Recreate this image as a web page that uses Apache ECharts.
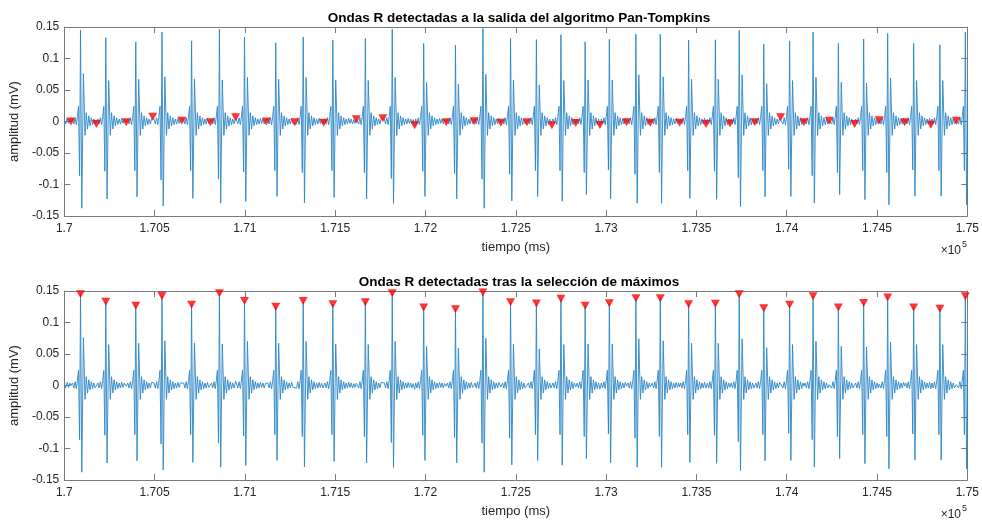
<!DOCTYPE html>
<html>
<head>
<meta charset="utf-8">
<title>Ondas R detectadas</title>
<script src="https://cdn.jsdelivr.net/npm/echarts@6/dist/echarts.min.js"></script>
<style>
  html, body { margin: 0; padding: 0; background: #fff; }
  #main { width: 982px; height: 522px; }
</style>
</head>
<body>
<div id="main"></div>
<script type="text/javascript">
// tiempos de las ondas R (ms) y amplitudes
var rTimes = [170090, 170230, 170396, 170541, 170705, 170859, 170998, 171171, 171323, 171487,
              171667, 171816, 171990, 172166, 172318, 172471, 172614, 172750, 172884, 173018,
              173165, 173300, 173457, 173605, 173737, 173873, 174016, 174146, 174286, 174426,
              174559, 174703, 174848, 174989];
var rPeaks = [0.145, 0.133, 0.1265, 0.142, 0.128, 0.1465, 0.134, 0.125, 0.134, 0.129,
              0.132, 0.1465, 0.124, 0.121, 0.1476, 0.132, 0.130, 0.1376, 0.1265, 0.1306,
              0.1386, 0.1386, 0.129, 0.1297, 0.145, 0.1227, 0.128, 0.1418, 0.1238, 0.131,
              0.1397, 0.1238, 0.1217, 0.1418];
var sTroughs = [-0.1376, -0.123, -0.1196, -0.134, -0.122, -0.1296, -0.127, -0.119, -0.129, -0.1206,
                -0.123, -0.130, -0.119, -0.1226, -0.1376, -0.126, -0.119, -0.1265, -0.116, -0.123,
                -0.1296, -0.130, -0.122, -0.1235, -0.135, -0.1196, -0.119, -0.1296, -0.116, -0.124,
                -0.132, -0.1185, -0.1185, -0.132];
var preDips = [-0.086, -0.079, -0.078, -0.093, -0.078, -0.0915, -0.080, -0.078, -0.081, -0.078,
               -0.081, -0.0905, -0.079, -0.0825, -0.0915, -0.0836, -0.078, -0.078, -0.081, -0.077,
               -0.0836, -0.081, -0.078, -0.079, -0.089, -0.078, -0.0757, -0.086, -0.081, -0.078,
               -0.081, -0.077, -0.078, -0.078];
var secondPeaks = [0.076, 0.065, 0.067, 0.071, 0.067, 0.066, 0.070, 0.067, 0.070, 0.066,
                   0.065, 0.070, 0.062, 0.059, 0.075, 0.066, 0.058, 0.065, 0.066, 0.066,
                   0.074, 0.071, 0.067, 0.067, 0.074, 0.060, 0.065, 0.070, 0.062, 0.061,
                   0.069, 0.065, 0.065, 0.070];

// salida Pan-Tompkins (marcadores de la primera grafica)
var ptTimes = [170037, 170178, 170343, 170490, 170651, 170809, 170949, 171119, 171276, 171437,
               171617, 171764, 171940, 172115, 172269, 172417, 172562, 172700, 172832, 172966,
               173113, 173245, 173407, 173553, 173686, 173823, 173966, 174095, 174235, 174376,
               174512, 174653, 174798, 174939];
var ptValues = [0.000, -0.004, -0.001, 0.0076, 0.0013, -0.001, 0.0067, 0.000, -0.001, -0.002,
                0.0035, 0.005, -0.006, -0.001, 0.0003, -0.002, -0.0013, -0.006, -0.0024, -0.0056,
                -0.001, -0.002, -0.002, -0.004, -0.003, -0.001, 0.0067, -0.001, 0.0013, -0.004,
                0.002, -0.001, -0.005, 0.0013];

// forma del complejo alrededor de cada onda R (ms relativos, mV)
var preOffsets = [-44, -37, -30, -23, -17, -11];
var preValues = [0.004, -0.004, 0.006, -0.005, 0.008, 0.024];
var tailOffsets = [25, 32, 39, 46, 53, 60, 67, 74, 81, 88, 95, 102, 109, 116, 123, 130];
var tailValues = [-0.022, 0.014, -0.012, 0.009, -0.007, 0.006, -0.005, 0.004, -0.004, 0.005,
                  -0.003, 0.004, -0.004, 0.003, -0.003, 0.003];
var leadTimes = [170000, 170008, 170016, 170024, 170031];
var leadValues = [0.003, -0.004, 0.005, -0.003, 0.004];

var xTickLabels = ['1.7', '1.705', '1.71', '1.715', '1.72', '1.725', '1.73', '1.735', '1.74', '1.745', '1.75'];
var yTickLabels = ['-0.15', '-0.1', '-0.05', '0', '0.05', '0.1', '0.15'];

// construir la senal
var signal = [];
for (var k = 0; k < leadTimes.length; k++) signal.push([leadTimes[k], leadValues[k]]);
for (var i = 0; i < rTimes.length; i++) {
    var r = rTimes[i];
    var next = i + 1 < rTimes.length ? ptTimes[i + 1] : 175060;
    signal.push([ptTimes[i], ptValues[i]]);
    for (var j = 0; j < preOffsets.length; j++) {
        if (r + preOffsets[j] > ptTimes[i] + 3) signal.push([r + preOffsets[j], preValues[j]]);
    }
    signal.push([r - 5, preDips[i]]);
    signal.push([r, rPeaks[i]]);
    signal.push([r + 7, sTroughs[i]]);
    signal.push([r + 16, secondPeaks[i]]);
    for (var j = 0; j < tailOffsets.length; j++) {
        if (r + tailOffsets[j] < next - 4) signal.push([r + tailOffsets[j], tailValues[j]]);
    }
}
var ptMarks = [], rMarks = [];
for (var i = 0; i < rTimes.length; i++) {
    ptMarks.push([ptTimes[i], ptValues[i]]);
    rMarks.push([rTimes[i], rPeaks[i]]);
}

var font = "'Liberation Sans', Arial, sans-serif";
var boxColor = '#7a7a7a';
var textColor = '#262626';

function xAx(gi, mirror) {
    return {
        type: 'value', gridIndex: gi, min: 170000, max: 175000, interval: 500,
        position: mirror ? 'top' : 'bottom',
        name: mirror ? '' : 'tiempo (ms)', nameLocation: 'middle', nameGap: 25,
        nameTextStyle: { fontFamily: font, fontSize: 13, color: textColor },
        axisLine: { show: true, onZero: false, lineStyle: { color: boxColor, width: 1 } },
        axisTick: { show: true, inside: true, length: 6, lineStyle: { color: boxColor } },
        axisLabel: {
            show: !mirror, margin: 7, fontFamily: font, fontSize: 12, color: textColor,
            showMinLabel: true, showMaxLabel: true,
            formatter: function (v) { return xTickLabels[Math.round((v - 170000) / 500)] || ''; }
        },
        splitLine: { show: false }
    };
}
function yAx(gi, mirror) {
    return {
        type: 'value', gridIndex: gi, min: -0.15, max: 0.15, interval: 0.05,
        position: mirror ? 'right' : 'left',
        name: mirror ? '' : 'amplitud (mV)', nameLocation: 'middle', nameGap: 34, nameRotate: 90,
        nameTextStyle: { fontFamily: font, fontSize: 13, color: textColor },
        axisLine: { show: true, onZero: false, lineStyle: { color: boxColor, width: 1 } },
        axisTick: { show: true, inside: true, length: 6, lineStyle: { color: boxColor } },
        axisLabel: {
            show: !mirror, margin: 5, fontFamily: font, fontSize: 12, color: textColor,
            showMinLabel: true, showMaxLabel: true,
            formatter: function (v) { return yTickLabels[Math.round((v + 0.15) / 0.05)] || ''; }
        },
        splitLine: { show: false }
    };
}

var chart = echarts.init(document.getElementById('main'));
chart.setOption({
    animation: false,
    backgroundColor: '#fff',
    title: [
        { text: 'Ondas R detectadas a la salida del algoritmo Pan-Tompkins', left: 514, top: 6, textAlign: 'center',
          textStyle: { fontFamily: font, fontSize: 13.5, fontWeight: 'bold', color: '#000' } },
        { text: 'Ondas R detectadas tras la selección de máximos', left: 514, top: 270, textAlign: 'center',
          textStyle: { fontFamily: font, fontSize: 13.5, fontWeight: 'bold', color: '#000' } }
    ],
    grid: [
        { left: 60, top: 27, width: 908, height: 189 },
        { left: 60, top: 291, width: 908, height: 189 }
    ],
    xAxis: [xAx(0, false), xAx(0, true), xAx(1, false), xAx(1, true)],
    yAxis: [yAx(0, false), yAx(0, true), yAx(1, false), yAx(1, true)],
    graphic: [
        { type: 'text', right: 21, top: 245, style: { text: '×10', fontFamily: font, fontSize: 12, fill: textColor } },
        { type: 'text', left: 962, top: 240, style: { text: '5', fontFamily: font, fontSize: 9, fill: textColor } },
        { type: 'text', right: 21, top: 509, style: { text: '×10', fontFamily: font, fontSize: 12, fill: textColor } },
        { type: 'text', left: 962, top: 504, style: { text: '5', fontFamily: font, fontSize: 9, fill: textColor } }
    ],
    series: [
        { type: 'line', xAxisIndex: 0, yAxisIndex: 0, data: signal, showSymbol: false, clip: true,
          lineStyle: { color: '#2a86c6', width: 0.9 } },
        { type: 'scatter', xAxisIndex: 0, yAxisIndex: 0, data: ptMarks, symbol: 'triangle', symbolRotate: 180,
          symbolSize: [9, 8], itemStyle: { color: '#ff0000' }, z: 5 },
        { type: 'line', xAxisIndex: 2, yAxisIndex: 2, data: signal, showSymbol: false, clip: true,
          lineStyle: { color: '#2a86c6', width: 0.9 } },
        { type: 'scatter', xAxisIndex: 2, yAxisIndex: 2, data: rMarks, symbol: 'triangle', symbolRotate: 180,
          symbolSize: [9, 8], itemStyle: { color: '#ff0000' }, z: 5 }
    ]
});
</script>
</body>
</html>
